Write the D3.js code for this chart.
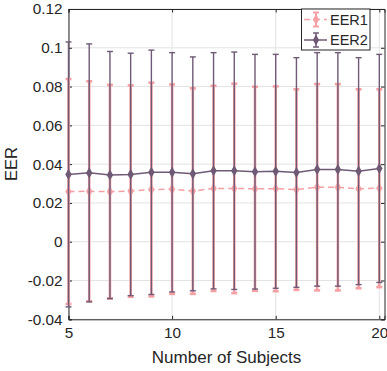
<!DOCTYPE html>
<html><head><meta charset="utf-8">
<script src="https://cdn.jsdelivr.net/npm/d3@7"></script>
<style>body{margin:0;background:#fff}svg{display:block}text{font-family:"Liberation Sans",Arial,Helvetica,sans-serif;fill:#262626}</style>
</head><body><svg id="c" width="387" height="371"></svg>
<script>
const subjects = [5,6,7,8,9,10,11,12,13,14,15,16,17,18,19,20];
const eer1Mean = [0.0259,0.0260,0.0258,0.0261,0.0269,0.0271,0.0261,0.0275,0.0275,0.0273,0.0273,0.0269,0.0281,0.0281,0.0273,0.0276];
const eer1Err  = [0.0580,0.0567,0.0551,0.0545,0.0551,0.0540,0.0530,0.0529,0.0540,0.0526,0.0528,0.0517,0.0532,0.0532,0.0513,0.0510];
const eer2Mean = [0.0347,0.0355,0.0344,0.0347,0.0358,0.0358,0.0350,0.0366,0.0366,0.0361,0.0363,0.0357,0.0373,0.0373,0.0364,0.0378];
const eer2Err  = [0.0683,0.0665,0.0637,0.0625,0.0630,0.0617,0.0603,0.0609,0.0612,0.0605,0.0603,0.0592,0.0602,0.0602,0.0585,0.0588];
const xTicks = [5,10,15,20];
const yTicks = [-0.04,-0.02,0,0.02,0.04,0.06,0.08,0.1,0.12];
const seriesNames = ["EER1","EER2"];

const svg = d3.select("#c");
const L=68.5, R=384.5, T=9, B=319.3;
const x = d3.scaleLinear().domain([5,20.25]).range([L,R]);
const y = d3.scaleLinear().domain([-0.04,0.12]).range([B,T]);
const axisCol="#262626", gridCol="#e3e3e3";
const c1="#f4a0a4", c2="#6f5a75";
const fmt = v => String(+v.toFixed(2));

// grid
svg.append("g").selectAll("line").data(yTicks).join("line")
  .attr("x1",L).attr("x2",R).attr("y1",d=>y(d)).attr("y2",d=>y(d))
  .attr("stroke",gridCol).attr("stroke-width",1);
svg.append("g").selectAll("line").data(xTicks).join("line")
  .attr("y1",T).attr("y2",B).attr("x1",d=>x(d)).attr("x2",d=>x(d))
  .attr("stroke",gridCol).attr("stroke-width",1);

// axes (inner ticks) via d3 axes
const tl=3.5;
const gx = svg.append("g").attr("transform",`translate(0,${B})`)
  .call(d3.axisBottom(x).tickValues(xTicks).tickSize(-tl).tickPadding(8).tickFormat(d3.format("d")));
const gxt = svg.append("g").attr("transform",`translate(0,${T})`)
  .call(d3.axisTop(x).tickValues(xTicks).tickSize(-tl).tickFormat(""));
const gy = svg.append("g").attr("transform",`translate(${L},0)`)
  .call(d3.axisLeft(y).tickValues(yTicks).tickSize(-tl).tickPadding(6).tickFormat(fmt));
const gyr = svg.append("g").attr("transform",`translate(${R},0)`)
  .call(d3.axisRight(y).tickValues(yTicks).tickSize(-tl).tickFormat(""));
[gx,gxt,gy,gyr].forEach(g=>{
  g.selectAll(".domain").attr("stroke",axisCol).attr("stroke-width",1);
  g.selectAll(".tick line").attr("stroke",axisCol).attr("stroke-width",1);
  g.selectAll("text").attr("font-size",15.3).attr("fill",axisCol)
   .attr("font-family","'Liberation Sans',Arial,sans-serif");
});

// series
const d1 = subjects.map((s,i)=>({x:s,m:eer1Mean[i],e:eer1Err[i]}));
const d2 = subjects.map((s,i)=>({x:s,m:eer2Mean[i],e:eer2Err[i]}));
const cap=3;
function drawSeries(data,col,bw,dash){
  const g=svg.append("g");
  g.selectAll(".v").data(data).join("line")
    .attr("x1",d=>x(d.x)).attr("x2",d=>x(d.x))
    .attr("y1",d=>y(d.m-d.e)).attr("y2",d=>y(d.m+d.e))
    .attr("stroke",col).attr("stroke-width",bw);
  ["lo","hi"].forEach(k=>{
    g.selectAll("."+k).data(data).join("line")
      .attr("x1",d=>x(d.x)-cap).attr("x2",d=>x(d.x)+cap)
      .attr("y1",d=>y(k=="lo"?d.m-d.e:d.m+d.e)).attr("y2",d=>y(k=="lo"?d.m-d.e:d.m+d.e))
      .attr("stroke",col).attr("stroke-width",bw);
  });
  g.append("path").datum(data)
    .attr("d",d3.line().x(d=>x(d.x)).y(d=>y(d.m)))
    .attr("fill","none").attr("stroke",col).attr("stroke-width",1.5)
    .attr("stroke-dasharray",dash||null);
  g.selectAll(".mk").data(data).join("path")
    .attr("transform",d=>`translate(${x(d.x)},${y(d.m)})`)
    .attr("d",d3.symbol(d3.symbolDiamond,36)).attr("fill",col);
}
drawSeries(d1,c1,2.6,"6,4");
drawSeries(d2,c2,1.4,null);

// axis labels
svg.append("text").attr("x",(L+R)/2).attr("y",363).attr("text-anchor","middle")
  .attr("font-size",17).text("Number of Subjects");
svg.append("text").attr("transform",`translate(17,${(T+B)/2}) rotate(-90)`)
  .attr("text-anchor","middle").attr("font-size",16.5).text("EER");

// legend
const lg = svg.append("g");
lg.append("rect").attr("x",301.5).attr("y",T).attr("width",68.5).attr("height",41)
  .attr("fill","#fff").attr("stroke",axisCol).attr("stroke-width",1);
const legendRows=[{n:seriesNames[0],c:c1,dash:"6,4",w:2,yy:19.5},{n:seriesNames[1],c:c2,dash:null,w:1.5,yy:40}];
legendRows.forEach(r=>{
  lg.append("line").attr("x1",304).attr("x2",327).attr("y1",r.yy).attr("y2",r.yy)
    .attr("stroke",r.c).attr("stroke-width",1.5).attr("stroke-dasharray",r.dash);
  const cx=316;
  lg.append("line").attr("x1",cx).attr("x2",cx).attr("y1",r.yy-7).attr("y2",r.yy+7).attr("stroke",r.c).attr("stroke-width",r.w);
  [r.yy-7,r.yy+7].forEach(yy=>lg.append("line").attr("x1",cx-3).attr("x2",cx+3).attr("y1",yy).attr("y2",yy).attr("stroke",r.c).attr("stroke-width",r.w));
  lg.append("path").attr("transform",`translate(${cx},${r.yy})`).attr("d",d3.symbol(d3.symbolDiamond,34)).attr("fill",r.c);
  lg.append("text").attr("x",330).attr("y",r.yy+5).attr("font-size",14.5).text(r.n);
});
</script></body></html>
